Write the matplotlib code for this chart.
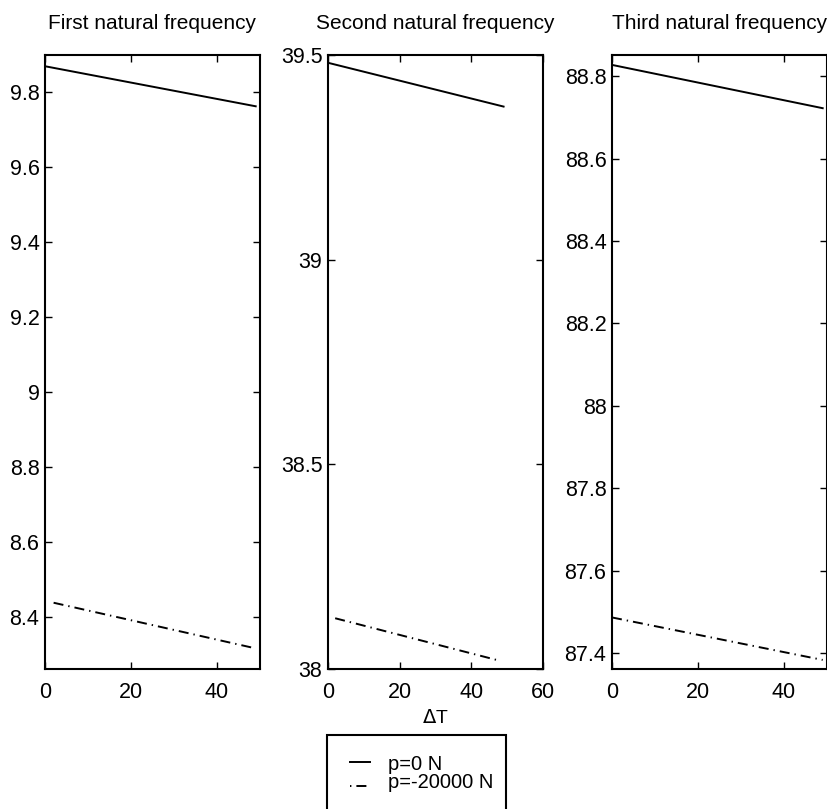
import numpy as np
import matplotlib
matplotlib.use('Agg')
import matplotlib.pyplot as plt
from matplotlib import ticker
from matplotlib.lines import Line2D
from matplotlib.patches import Rectangle

plt.rcParams['font.family'] = ['Liberation Sans', 'DejaVu Sans']
plt.rcParams['lines.scale_dashes'] = False

# temperature rise (deg) and natural frequencies for the two axial loads
dT_solid = [0, 49]
dT_dash = [2, 49]
dT_dash2 = [2, 48]

f1_p0 = [9.870, 9.763]
f1_p20k = [8.437, 8.315]
f2_p0 = [39.481, 39.374]
f2_p20k = [38.124, 38.020]
f3_p0 = [88.827, 88.722]
f3_p20k = [87.487, 87.384]

titles = ['First natural frequency', 'Second natural frequency', 'Third natural frequency']
labels = ['p=0 N', 'p=-20000 N']
ylims = [(8.26, 9.90), (38.0, 39.5), (87.362, 88.851)]
yticks = [np.arange(8.4, 9.81, 0.2), [38, 38.5, 39, 39.5], np.arange(87.4, 88.81, 0.2)]
xlims = [(0, 50), (0, 60), (0, 50)]
xticks = [[0, 20, 40], [0, 20, 40, 60], [0, 20, 40]]

series = [(dT_solid, f1_p0, dT_dash, f1_p20k),
          (dT_solid, f2_p0, dT_dash2, f2_p20k),
          (dT_solid, f3_p0, [0, 49], f3_p20k)]

W, H = 828, 809
fig = plt.figure(figsize=(W / 100, H / 100), dpi=100)
lefts = [45, 328, 612]
dashdot = (0, (7.2, 3.6, 1.0, 3.6))

for i in range(3):
    ax = fig.add_axes([lefts[i] / W, 1 - 669 / H, 215 / W, 614 / H])
    xs, ys, xd, yd = series[i]
    ax.plot(xs, ys, color='black', lw=1.4)
    ax.plot(xd, yd, color='black', lw=1.4, linestyle=dashdot)
    ax.set_xlim(*xlims[i])
    ax.set_ylim(*ylims[i])
    ax.set_xticks(xticks[i])
    ax.set_yticks(yticks[i])
    ax.yaxis.set_major_formatter(ticker.FuncFormatter(lambda v, p: '%g' % round(v, 2)))
    ax.tick_params(direction='in', length=5, width=1, top=True, right=True,
                   labelsize=15.5, pad=4)
    ax.tick_params(axis='x', pad=9)
    for s in ax.spines.values():
        s.set_linewidth(1.5)
    ax.set_title(titles[i], fontsize=15, pad=19)
    if i == 1:
        ax.set_xlabel(r'$\Delta$T', fontsize=14, labelpad=5)

# legend box below the middle panel, drawn in figure pixels
px = lambda x, y: (x / W, 1 - y / H)
fig.patches.append(Rectangle(px(327, 812), 179 / W, 77 / H, transform=fig.transFigure,
                             facecolor='white', edgecolor='black', lw=1.5))
styles = ['-', (10.8, (7.2, 3.6, 1.0, 3.6))]
for k, (yl, yt) in enumerate([(762, 764), (786, 782)]):
    (x0, y0), (x1, _) = px(350, yl), px(370, yl)
    fig.lines.append(Line2D([x0, x1], [y0, y0], transform=fig.transFigure,
                            color='black', lw=1.4, linestyle=styles[k]))
    fig.text(*px(388, yt), labels[k], fontsize=14.5, va='center', ha='left')

fig.savefig('out.png', dpi=100)
